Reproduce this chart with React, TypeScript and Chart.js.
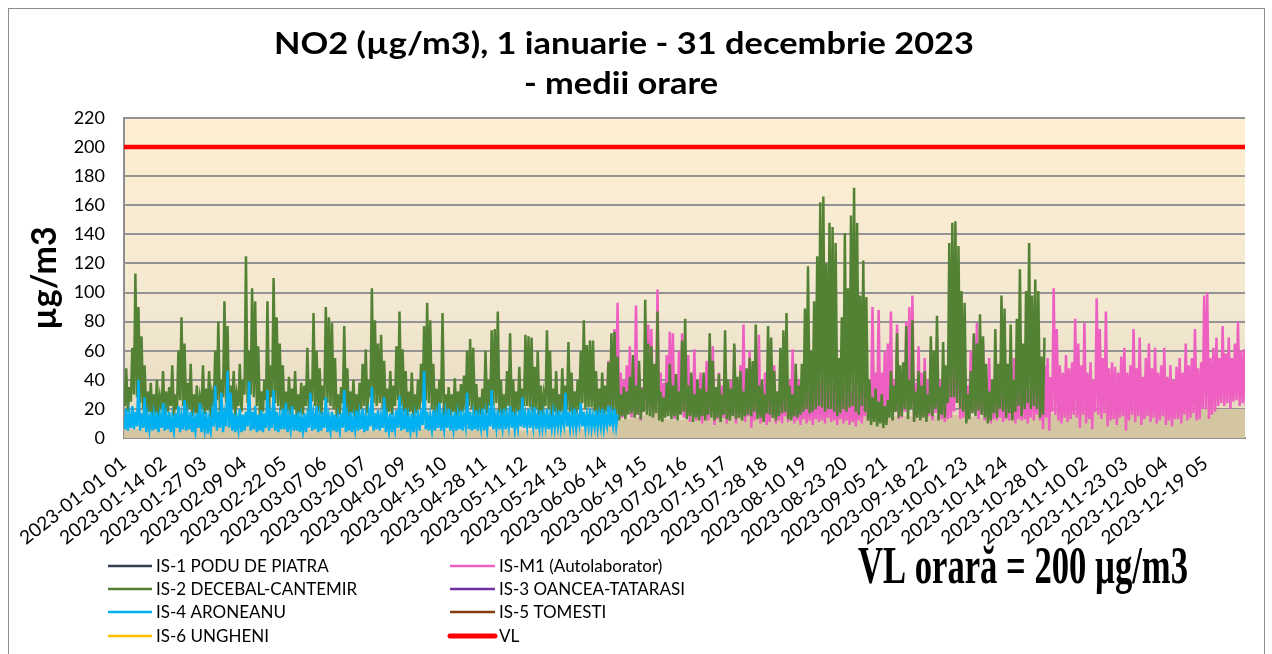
import React, { useEffect, useRef } from 'react';
import { Chart, registerables } from 'chart.js';

Chart.register(...registerables);

const titleLines = ['NO2 (µg/m3), 1 ianuarie - 31 decembrie 2023', '- medii orare'];
const yTitle = 'µg/m3';
const vlNote = 'VL orară = 200 µg/m3';

const xTickLabels = [
  '2023-01-01 01', '2023-01-14 02', '2023-01-27 03', '2023-02-09 04', '2023-02-22 05',
  '2023-03-07 06', '2023-03-20 07', '2023-04-02 09', '2023-04-15 10', '2023-04-28 11',
  '2023-05-11 12', '2023-05-24 13', '2023-06-06 14', '2023-06-19 15', '2023-07-02 16',
  '2023-07-15 17', '2023-07-28 18', '2023-08-10 19', '2023-08-23 20', '2023-09-05 21',
  '2023-09-18 22', '2023-10-01 23', '2023-10-14 24', '2023-10-28 01', '2023-11-10 02',
  '2023-11-23 03', '2023-12-06 04', '2023-12-19 05',
];
const tickStepHours = 313;
const totalHours = 8760;
const yMin = 0;
const yMax = 220;
const yStep = 20;
const vlValue = 200;

// IS-2 DECEBAL-CANTEMIR: daily max / min (from day 0)
const is2StartDay = 0;
const is2DailyMax = [
  48, 35, 62, 113, 90, 70, 50, 32, 38, 30,
  40, 28, 46, 32, 35, 50, 30, 60, 83, 65,
  38, 51, 30, 36, 28, 50, 34, 46, 30, 60,
  80, 40, 94, 77, 36, 46, 30, 51, 40, 125,
  60, 103, 94, 63, 32, 40, 94, 50, 110, 83,
  65, 50, 32, 42, 34, 46, 30, 38, 36, 62,
  40, 86, 60, 48, 36, 90, 83, 79, 55, 30,
  35, 77, 48, 32, 40, 30, 38, 51, 61, 40,
  103, 81, 65, 71, 53, 34, 46, 36, 63, 87,
  61, 46, 32, 45, 30, 40, 51, 77, 93, 81,
  51, 34, 40, 86, 30, 35, 30, 41, 32, 37,
  43, 60, 68, 62, 37, 28, 34, 60, 40, 74,
  75, 87, 40, 30, 46, 72, 40, 32, 49, 34,
  71, 70, 69, 49, 60, 36, 30, 74, 60, 34,
  46, 30, 48, 36, 66, 45, 32, 40, 60, 81,
  64, 67, 67, 46, 34, 45, 36, 52, 72, 73,
  56, 30, 35, 32, 42, 57, 36, 53, 34, 95,
  65, 63, 51, 87, 32, 28, 38, 51, 36, 44,
  32, 67, 82, 36, 45, 30, 40, 34, 45, 32,
  72, 53, 35, 44, 30, 74, 40, 34, 65, 42,
  46, 32, 48, 55, 53, 78, 36, 40, 30, 77,
  69, 46, 32, 62, 74, 86, 36, 30, 51, 36,
  51, 89, 118, 60, 94, 125, 162, 166, 120, 148,
  145, 134, 55, 83, 141, 103, 153, 172, 148, 98,
  122, 97, 40, 28, 34, 25, 30, 22, 26, 46,
  36, 72, 50, 52, 77, 40, 81, 32, 46, 36,
  46, 30, 70, 60, 84, 35, 66, 50, 134, 148,
  149, 132, 101, 93, 30, 46, 72, 65, 85, 70,
  51, 32, 40, 75, 51, 98, 89, 51, 78, 40,
  82, 116, 65, 101, 134, 98, 109, 101, 56, 69,
];
const is2DailyMin = [
  22, 18, 25, 30, 28, 24, 20, 16, 18, 15,
  17, 14, 20, 16, 18, 22, 15, 20, 26, 22,
  16, 20, 15, 17, 14, 20, 16, 19, 14, 22,
  26, 18, 28, 24, 17, 20, 14, 22, 18, 30,
  24, 30, 28, 22, 15, 18, 26, 20, 28, 24,
  22, 19, 15, 18, 16, 20, 14, 17, 16, 22,
  18, 25, 22, 18, 16, 26, 24, 22, 20, 14,
  16, 24, 18, 15, 17, 14, 16, 20, 22, 17,
  28, 24, 22, 24, 20, 15, 18, 16, 22, 26,
  22, 18, 15, 18, 14, 17, 20, 24, 26, 24,
  20, 16, 17, 24, 14, 16, 14, 18, 15, 17,
  18, 20, 22, 20, 16, 14, 16, 20, 17, 22,
  22, 24, 17, 14, 18, 22, 17, 15, 18, 16,
  22, 22, 21, 18, 20, 16, 14, 22, 20, 15,
  18, 14, 18, 16, 20, 18, 15, 17, 20, 24,
  20, 21, 21, 18, 15, 17, 16, 18, 20, 18,
  16, 12, 15, 13, 16, 17, 14, 16, 13, 18,
  16, 15, 14, 17, 12, 11, 14, 15, 13, 15,
  12, 16, 18, 13, 15, 11, 14, 12, 15, 12,
  16, 14, 12, 14, 11, 16, 13, 12, 15, 13,
  14, 12, 15, 16, 15, 18, 13, 14, 11, 17,
  16, 14, 12, 15, 17, 18, 13, 12, 15, 14,
  16, 18, 20, 17, 18, 20, 22, 21, 18, 20,
  20, 18, 15, 17, 20, 18, 21, 22, 18, 16,
  22, 18, 12, 9, 11, 8, 10, 7, 9, 14,
  12, 18, 14, 15, 20, 13, 20, 11, 14, 12,
  14, 11, 17, 15, 20, 12, 16, 14, 24, 28,
  28, 24, 20, 18, 10, 13, 17, 15, 19, 16,
  14, 10, 12, 17, 14, 20, 18, 14, 17, 12,
  18, 22, 15, 20, 24, 20, 22, 20, 14, 16,
];

// IS-4 ARONEANU: daily max / min (from day 0)
const is4StartDay = 0;
const is4DailyMax = [
  20, 16, 22, 18, 40, 17, 28, 15, 18, 16,
  18, 15, 24, 16, 18, 14, 17, 22, 15, 26,
  16, 18, 14, 17, 24, 15, 18, 13, 17, 36,
  18, 31, 16, 46, 31, 17, 14, 20, 16, 18,
  39, 18, 22, 16, 19, 17, 33, 16, 33, 18,
  15, 20, 24, 14, 22, 16, 18, 14, 17, 15,
  31, 16, 22, 15, 18, 28, 14, 18, 16, 14,
  17, 33, 15, 18, 14, 19, 16, 20, 15, 17,
  35, 17, 19, 15, 28, 14, 17, 14, 19, 29,
  16, 20, 14, 17, 15, 19, 16, 46, 18, 15,
  19, 16, 24, 15, 17, 20, 14, 18, 16, 19,
  15, 31, 18, 16, 19, 15, 20, 16, 17, 33,
  16, 19, 15, 20, 16, 22, 18, 15, 19, 28,
  16, 20, 17, 21, 15, 19, 16, 20, 15, 17,
  16, 19, 15, 31, 18, 16, 20, 15, 24, 18,
  16, 20, 15, 19, 16, 20, 15, 22, 17, 20, 16,
];
const is4DailyMin = [
  6, 5, 7, 6, 8, 5, 7, 4, 6, 5,
  6, 4, 7, 5, 6, 4, 5, 7, 4, 6,
  5, 6, 4, 5, 7, 4, 6, 3, 5, 8,
  5, 7, 4, 8, 7, 5, 4, 6, 4, 5,
  8, 5, 6, 4, 5, 4, 7, 5, 7, 5,
  4, 6, 6, 4, 6, 5, 5, 4, 5, 4,
  7, 5, 6, 4, 5, 7, 4, 5, 5, 4,
  5, 7, 4, 5, 4, 6, 5, 6, 4, 5,
  8, 5, 6, 5, 7, 4, 5, 4, 6, 7,
  5, 6, 4, 5, 4, 6, 5, 9, 6, 5,
  6, 5, 7, 5, 6, 7, 5, 6, 5, 6,
  5, 8, 6, 5, 6, 5, 7, 5, 6, 8,
  6, 7, 6, 7, 6, 8, 7, 6, 7, 8,
  7, 8, 7, 8, 6, 7, 7, 8, 6, 7,
  7, 8, 7, 9, 8, 7, 8, 7, 9, 8,
  7, 8, 7, 8, 7, 8, 7, 9, 8, 9, 8,
];

// IS-M1 (Autolaborator): daily max / min (from day 157)
const m1StartDay = 157;
const m1DailyMax = [
  53, 38, 75, 93, 45, 40, 50, 63, 40, 91,
  45, 35, 65, 78, 75, 45, 102, 45, 38, 57,
  73, 72, 40, 60, 72, 45, 57, 35, 61, 40,
  45, 35, 53, 40, 63, 32, 45, 36, 52, 34,
  40, 63, 36, 50, 78, 40, 60, 32, 40, 71,
  36, 45, 30, 38, 50, 32, 40, 36, 55, 40,
  61, 34, 40, 30, 45, 35, 40, 32, 45, 38,
  40, 34, 50, 36, 40, 32, 45, 35, 40, 32,
  38, 30, 40, 35, 55, 40, 90, 45, 88, 45,
  60, 65, 87, 40, 78, 45, 50, 80, 90, 98,
  38, 63, 45, 55, 40, 60, 42, 70, 40, 45,
  38, 45, 50, 70, 116, 45, 50, 36, 60, 70,
  79, 45, 65, 40, 55, 35, 45, 40, 50, 36,
  45, 40, 55, 36, 50, 40, 45, 34, 55, 40,
  79, 45, 50, 55, 42, 103, 75, 50, 45, 57,
  48, 52, 82, 65, 50, 79, 45, 52, 40, 96,
  75, 55, 87, 48, 52, 49, 45, 56, 62, 45,
  50, 75, 48, 69, 42, 55, 65, 48, 62, 45,
  50, 62, 42, 50, 40, 49, 55, 45, 65, 50,
  55, 75, 48, 52, 98, 100, 55, 62, 69, 55,
  77, 58, 69, 55, 65, 80, 60, 61, 59,
];
const m1DailyMin = [
  20, 15, 22, 25, 16, 14, 18, 20, 14, 24,
  16, 12, 18, 20, 20, 15, 24, 14, 12, 16,
  18, 18, 13, 16, 18, 14, 15, 11, 16, 12,
  13, 10, 14, 12, 16, 9, 13, 11, 14, 10,
  12, 16, 10, 14, 18, 11, 15, 7, 12, 17,
  10, 13, 9, 11, 14, 10, 12, 10, 15, 11,
  15, 10, 12, 9, 13, 10, 12, 9, 13, 11,
  12, 10, 14, 11, 12, 9, 13, 10, 12, 9,
  11, 8, 12, 10, 15, 12, 20, 14, 20, 13,
  16, 17, 20, 12, 18, 13, 14, 18, 20, 22,
  11, 16, 13, 15, 12, 15, 12, 17, 12, 13,
  11, 13, 14, 18, 24, 13, 14, 11, 16, 18,
  18, 13, 16, 12, 14, 10, 13, 12, 14, 11,
  13, 12, 14, 10, 13, 12, 13, 10, 14, 12,
  16, 12, 6, 14, 5, 18, 16, 12, 10, 14,
  11, 13, 16, 14, 7, 16, 10, 13, 6, 18,
  16, 13, 17, 8, 12, 13, 9, 14, 15, 5,
  12, 16, 11, 15, 9, 13, 15, 11, 14, 10,
  12, 15, 9, 12, 8, 13, 13, 10, 16, 12,
  14, 17, 12, 13, 20, 20, 13, 16, 18, 22,
  24, 22, 24, 20, 25, 26, 22, 24, 22,
];

// tan background band (days / values)
const bandDays = [0, 10, 20, 30, 40, 50, 60, 70, 80, 90, 100, 110, 120, 130, 140, 150, 157, 160, 165, 170, 173, 176, 180, 190, 200, 210, 220, 225, 230, 235, 240, 245, 250, 260, 270, 280, 290, 300, 310, 320, 330, 340, 350, 360, 365];
const bandValues = [6, 6, 7, 8, 8, 7, 6, 6, 5, 6, 6, 5, 6, 5, 5, 6, 8, 12, 13, 16, 19, 13, 12, 14, 15, 17, 19, 21, 21, 20, 16, 14, 15, 15, 16, 14, 15, 16, 18, 20, 19, 20, 20, 20, 20];

const legendItems = [
  { label: 'IS-1 PODU DE PIATRA', color: '#333F50', width: 2.5 },
  { label: 'IS-M1 (Autolaborator)', color: '#EE5FC2', width: 2.5 },
  { label: 'IS-2 DECEBAL-CANTEMIR', color: '#548235', width: 2.5 },
  { label: 'IS-3 OANCEA-TATARASI', color: '#7030A0', width: 2.5 },
  { label: 'IS-4 ARONEANU', color: '#00B0F0', width: 2.5 },
  { label: 'IS-5 TOMESTI', color: '#843C0C', width: 2.5 },
  { label: 'IS-6 UNGHENI', color: '#FFC000', width: 2.5 },
  { label: 'VL', color: '#FF0000', width: 5 },
];

const FONT = 'Lato, "Open Sans", sans-serif';

function dayMinMaxPoints(startDay: number, mins: number[], maxs: number[]) {
  const pts: { x: number; y: number }[] = [];
  for (let i = 0; i < maxs.length; i++) {
    const base = (startDay + i) * 24;
    pts.push({ x: base + 6, y: mins[i] });
    pts.push({ x: base + 17, y: maxs[i] });
  }
  return pts;
}

const plotBackground = {
  id: 'plotBackground',
  beforeDraw(chart: any) {
    const { ctx, chartArea } = chart;
    if (!chartArea) return;
    const g = ctx.createLinearGradient(0, chartArea.top, 0, chartArea.bottom);
    g.addColorStop(0, '#FEEFD2');
    g.addColorStop(0.6, '#F3E8D1');
    g.addColorStop(1, '#E4D8BD');
    ctx.save();
    ctx.fillStyle = g;
    ctx.fillRect(chartArea.left, chartArea.top, chartArea.right - chartArea.left, chartArea.bottom - chartArea.top);
    ctx.restore();
  },
};

const decorations = {
  id: 'decorations',
  afterDraw(chart: any) {
    const ctx = chart.ctx as CanvasRenderingContext2D;
    ctx.save();
    // outer frame
    ctx.strokeStyle = '#8C8C8C';
    ctx.lineWidth = 1;
    ctx.strokeRect(8.5, 8.5, 1256, 700);

    // title
    ctx.fillStyle = '#000';
    ctx.textAlign = 'center';
    ctx.textBaseline = 'alphabetic';
    ctx.font = 'bold 31px ' + FONT;
    const w1 = ctx.measureText(titleLines[0]).width;
    const sx = 700 / w1;
    ctx.save();
    ctx.translate(624, 54);
    ctx.scale(sx, 1);
    ctx.fillText(titleLines[0], 0, 0);
    ctx.restore();
    ctx.save();
    ctx.translate(621, 94);
    ctx.scale(sx, 1);
    ctx.fillText(titleLines[1], 0, 0);
    ctx.restore();

    // legend
    const rows = [566, 589, 612, 636];
    const lineX = [[108, 152], [450, 495]];
    const textX = [156, 499];
    ctx.font = '17px ' + FONT;
    ctx.textAlign = 'left';
    ctx.textBaseline = 'middle';
    legendItems.forEach((it, i) => {
      const col = i % 2;
      const row = Math.floor(i / 2);
      const y = rows[row];
      ctx.strokeStyle = it.color;
      ctx.lineWidth = it.width;
      ctx.lineCap = it.width > 3 ? 'round' : 'butt';
      ctx.beginPath();
      ctx.moveTo(lineX[col][0], y);
      ctx.lineTo(lineX[col][1], y);
      ctx.stroke();
      ctx.fillStyle = '#000';
      ctx.fillText(it.label, textX[col], y + 1);
    });

    // VL note
    ctx.font = 'bold 52px "Liberation Serif", "Times New Roman", serif';
    ctx.textAlign = 'left';
    ctx.textBaseline = 'alphabetic';
    const wv = ctx.measureText(vlNote).width;
    ctx.save();
    ctx.translate(858, 583);
    ctx.scale(330 / wv, 1);
    ctx.fillText(vlNote, 0, 0);
    ctx.restore();

    ctx.restore();
  },
};

export default function App() {
  const ref = useRef<HTMLCanvasElement | null>(null);

  useEffect(() => {
    if (!ref.current) return;
    const datasets: any[] = [
      {
        label: 'IS-4 ARONEANU',
        data: dayMinMaxPoints(is4StartDay, is4DailyMin, is4DailyMax),
        borderColor: '#00B0F0',
        borderWidth: 2.5,
        order: 1,
      },
      {
        label: 'IS-2 DECEBAL-CANTEMIR',
        data: dayMinMaxPoints(is2StartDay, is2DailyMin, is2DailyMax),
        borderColor: '#548235',
        borderWidth: 2.5,
        order: 2,
      },
      {
        label: 'IS-M1 (Autolaborator)',
        data: dayMinMaxPoints(m1StartDay, m1DailyMin, m1DailyMax),
        borderColor: '#EE5FC2',
        borderWidth: 2.5,
        order: 3,
      },
      {
        label: 'fundal',
        data: bandDays.map((d, i) => ({ x: d * 24, y: bandValues[i] })),
        borderWidth: 0,
        borderColor: 'rgba(0,0,0,0)',
        backgroundColor: '#D5C6A2',
        fill: 'origin',
        order: 5,
      },
      {
        label: 'VL',
        data: [{ x: 0, y: vlValue }, { x: totalHours + 20, y: vlValue }],
        borderColor: '#FF0000',
        borderWidth: 4.5,
        order: 0,
      },
    ];

    const chart = new Chart(ref.current, {
      type: 'line',
      data: { datasets },
      plugins: [plotBackground, decorations],
      options: {
        animation: false,
        responsive: false,
        maintainAspectRatio: false,
        events: [],
        elements: {
          point: { radius: 0 },
          line: { tension: 0, borderJoinStyle: 'miter' as any, capBezierPoints: false },
        },
        layout: { padding: { top: 118, left: 10, right: 27, bottom: 0 } },
        plugins: {
          legend: { display: false },
          title: { display: false },
          tooltip: { enabled: false },
        },
        scales: {
          x: {
            type: 'linear',
            min: 0,
            max: totalHours,
            afterFit: (scale: any) => {
              scale.height = 654 - 438;
            },
            afterBuildTicks: (scale: any) => {
              scale.ticks = xTickLabels.map((_, i) => ({ value: i * tickStepHours }));
            },
            grid: { display: false, drawTicks: false },
            border: { display: true, color: '#8F8F8F', width: 2 },
            ticks: {
              autoSkip: false,
              minRotation: 38,
              maxRotation: 38,
              padding: 14,
              color: '#000',
              font: { family: FONT, size: 19 },
              callback: (_v: any, i: number) => xTickLabels[i],
            },
          },
          y: {
            min: yMin,
            max: yMax,
            afterFit: (scale: any) => {
              scale.width = 124 - 10;
            },
            grid: { color: '#939393', lineWidth: 2, drawTicks: false },
            border: { display: true, color: '#8F8F8F', width: 2 },
            ticks: {
              stepSize: yStep,
              padding: 19,
              color: '#000',
              font: { family: FONT, size: 18 },
            },
            title: {
              display: true,
              text: yTitle,
              color: '#000',
              font: { family: FONT, size: 34, weight: 'bold' },
              padding: { top: 15, bottom: 0 },
            },
          },
        },
      },
    });
    return () => chart.destroy();
  }, []);

  return (
    <div style={{ position: 'absolute', left: 0, top: 0, width: 1272, height: 654 }}>
      <canvas ref={ref} width={1272} height={654} style={{ display: 'block' }} />
    </div>
  );
}
